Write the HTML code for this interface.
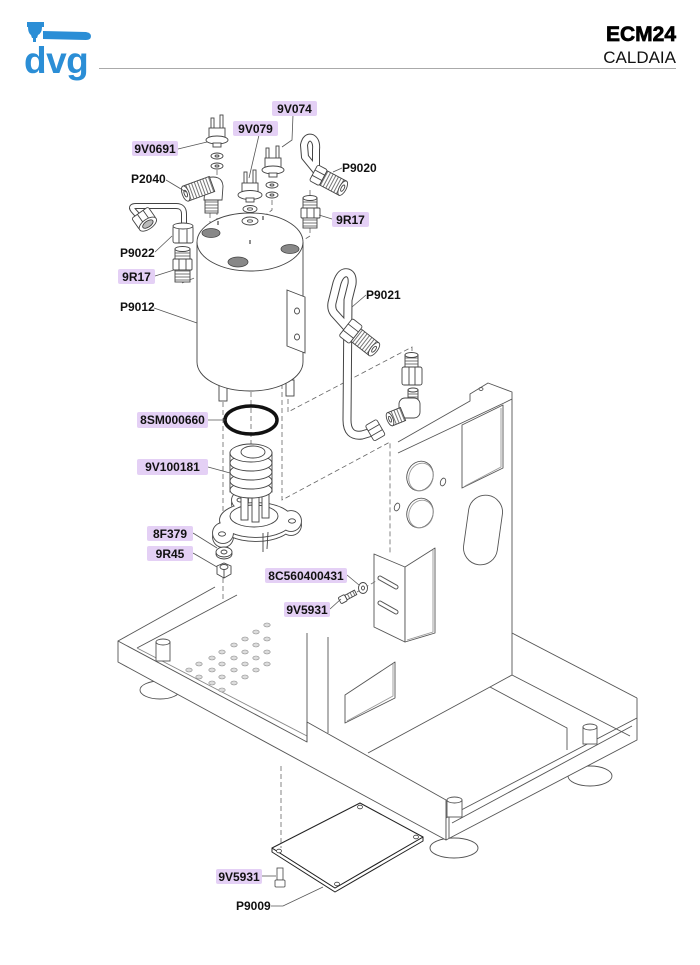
<!DOCTYPE html>
<html><head><meta charset="utf-8">
<style>
html,body{margin:0;padding:0;background:#fff;}
svg{display:block;}
.l{font-family:"Liberation Sans",Arial,sans-serif;font-weight:bold;font-size:12px;fill:#111;}
.b{fill:#e4d0f5;}
</style></head>
<body>
<svg width="700" height="965" viewBox="0 0 700 965" xmlns="http://www.w3.org/2000/svg">
<defs>
<pattern id="th" width="3" height="10" patternUnits="userSpaceOnUse"><rect width="3" height="10" fill="#fff"/><line x1="1" y1="0" x2="1" y2="10" stroke="#666" stroke-width="0.9"/></pattern>
<pattern id="tv" width="10" height="3" patternUnits="userSpaceOnUse"><rect width="10" height="3" fill="#fff"/><line x1="0" y1="1" x2="10" y2="1" stroke="#666" stroke-width="0.9"/></pattern>
</defs>

<!-- HEADER -->
<g fill="#2b8ed6">
<path d="M27 22 H44 V27 H42 Q42 33 38 35 L37 38 H32 L31 35 Q28 33 28 27 H27 Z"/>
<path d="M33 38 H36 V42 H33 Z"/>
<path d="M43 31 L86 32 Q91 33 91 36 Q91 40 86 40 L43 39 Z"/>
<text x="24" y="73" font-family="Liberation Sans,Arial,sans-serif" font-weight="bold" font-size="37" letter-spacing="-0.5">dvg</text>
</g>
<text x="676" y="41" text-anchor="end" font-family="Liberation Sans,Arial,sans-serif" font-weight="bold" font-size="21" stroke="#000" stroke-width="0.7">ECM24</text>
<text x="676" y="63" text-anchor="end" font-family="Liberation Sans,Arial,sans-serif" font-size="17" fill="#111">CALDAIA</text>
<line x1="99" y1="68.5" x2="676" y2="68.5" stroke="#aaa" stroke-width="1"/>

<!-- CHASSIS -->
<g stroke="#555" stroke-width="0.9" fill="#fff" stroke-linejoin="round">
<!-- feet -->
<ellipse cx="160" cy="690" rx="20" ry="9"/>
<ellipse cx="454" cy="848" rx="24" ry="10"/>
<ellipse cx="590" cy="776" rx="22" ry="10"/>
<!-- front wall -->
<polygon points="118,641 307,742 307,722 446,800 446,840 118,662"/>
<!-- right wall -->
<polygon points="446,818 637,718 637,740 446,840"/>
</g>
<g stroke="#555" stroke-width="0.9" fill="none" stroke-linejoin="round">
<line x1="118" y1="641" x2="215" y2="587"/>
<line x1="137" y1="648" x2="237" y2="595"/>
<line x1="137" y1="648" x2="307" y2="736" stroke="#888"/>
<line x1="449" y1="802" x2="449" y2="838"/>
<line x1="452" y1="823" x2="632" y2="726"/>
<line x1="637" y1="698" x2="637" y2="718"/>
<line x1="512" y1="633" x2="637" y2="698"/>
<line x1="512" y1="675" x2="630" y2="736"/>
<polyline points="368,753 490,687 567,728 567,750"/>
<line x1="490" y1="687" x2="512" y2="675"/>
<!-- column -->
<line x1="307" y1="633" x2="307" y2="742"/>
<line x1="328" y1="637" x2="328" y2="733"/>
<!-- lower window -->
<polygon points="345,695 395,662 395,698 345,723"/>
<polyline points="347,721 393,696 393,664" stroke="#999"/>
<!-- panel -->
<polyline points="398,442 470,401 470,394 488,383 512,392 512,675"/>
<polyline points="398,453 504,403 512,399"/>
<ellipse cx="481" cy="389" rx="2" ry="1.5"/>
<polygon points="462,425 503,405 503,468 462,488"/>
<polyline points="465,486 501,467 501,408" stroke="#999"/>
<ellipse cx="420" cy="476" rx="13" ry="15" transform="rotate(20 420 476)"/>
<ellipse cx="421" cy="477" rx="12" ry="14" transform="rotate(20 421 477)" stroke="#999"/>
<ellipse cx="420" cy="513" rx="13" ry="15" transform="rotate(20 420 513)"/>
<ellipse cx="421" cy="514" rx="12" ry="14" transform="rotate(20 421 514)" stroke="#999"/>
<ellipse cx="443" cy="482" rx="2.5" ry="4" transform="rotate(20 443 482)"/>
<ellipse cx="397" cy="507" rx="2.5" ry="4" transform="rotate(20 397 507)"/>
<rect x="466" y="495" width="34" height="70" rx="17" transform="rotate(8 483 530)"/>
<!-- panel bracket -->
<polygon points="374,554 405,567 405,642 374,627" fill="#fff"/>
<polygon points="405,567 435,548 435,633 405,642" fill="#fff"/>
<polyline points="407,640 433,632 433,550" stroke="#999"/>
</g>
<g stroke-linecap="round" fill="none">
<line x1="380" y1="578" x2="396" y2="587" stroke="#555" stroke-width="5"/>
<line x1="380" y1="578" x2="396" y2="587" stroke="#fff" stroke-width="3"/>
<line x1="380" y1="603" x2="396" y2="612" stroke="#555" stroke-width="5"/>
<line x1="380" y1="603" x2="396" y2="612" stroke="#fff" stroke-width="3"/>
</g>
<!-- holes grid -->
<g fill="#ddd" stroke="#888" stroke-width="0.6">
<ellipse cx="267" cy="625" rx="3.2" ry="2"/><ellipse cx="256" cy="632" rx="3.2" ry="2"/><ellipse cx="267" cy="639" rx="3.2" ry="2"/><ellipse cx="245" cy="639" rx="3.2" ry="2"/><ellipse cx="234" cy="645" rx="3.2" ry="2"/><ellipse cx="256" cy="645" rx="3.2" ry="2"/><ellipse cx="267" cy="652" rx="3.2" ry="2"/><ellipse cx="222" cy="652" rx="3.2" ry="2"/><ellipse cx="245" cy="652" rx="3.2" ry="2"/><ellipse cx="212" cy="658" rx="3.2" ry="2"/><ellipse cx="234" cy="658" rx="3.2" ry="2"/><ellipse cx="256" cy="658" rx="3.2" ry="2"/><ellipse cx="267" cy="664" rx="3.2" ry="2"/><ellipse cx="199" cy="664" rx="3.2" ry="2"/><ellipse cx="222" cy="664" rx="3.2" ry="2"/><ellipse cx="245" cy="664" rx="3.2" ry="2"/><ellipse cx="189" cy="670" rx="3.2" ry="2"/><ellipse cx="212" cy="670" rx="3.2" ry="2"/><ellipse cx="234" cy="670" rx="3.2" ry="2"/><ellipse cx="256" cy="670" rx="3.2" ry="2"/><ellipse cx="199" cy="677" rx="3.2" ry="2"/><ellipse cx="222" cy="677" rx="3.2" ry="2"/><ellipse cx="245" cy="677" rx="3.2" ry="2"/><ellipse cx="212" cy="683" rx="3.2" ry="2"/><ellipse cx="234" cy="683" rx="3.2" ry="2"/><ellipse cx="222" cy="690" rx="3.2" ry="2"/>
</g>
<!-- studs -->
<g stroke="#555" stroke-width="0.9" fill="#fff">
<rect x="156" y="642" width="14" height="19"/><ellipse cx="163" cy="642" rx="7" ry="3"/>
<rect x="583" y="727" width="14" height="17"/><ellipse cx="590" cy="727" rx="7" ry="3"/>
<rect x="447" y="800" width="15" height="17"/><ellipse cx="454.5" cy="800" rx="7.5" ry="3"/>
</g>

<!-- BOTTOM PLATE -->
<g stroke="#222" stroke-width="1" fill="#fff" stroke-linejoin="round">
<polygon points="272,848 272,852 335,892 423,841 423,837 335,888"/>
<polygon points="272,848 360,803 423,837 335,888"/>
</g>
<g fill="#fff" stroke="#444" stroke-width="0.8">
<ellipse cx="279" cy="851" rx="2.5" ry="1.8"/><ellipse cx="360" cy="807" rx="2.5" ry="1.8"/><ellipse cx="416" cy="837" rx="2.5" ry="1.8"/><ellipse cx="337" cy="884" rx="2.5" ry="1.8"/>
<rect x="277" y="868" width="6" height="12"/><rect x="275" y="880" width="10" height="7" rx="1"/>
</g>

<!-- DASHED LINES -->
<g stroke="#666" stroke-width="0.8" fill="none" stroke-dasharray="5,3">
<line x1="281" y1="766" x2="281" y2="848"/>
<line x1="251" y1="392" x2="251" y2="447"/>
<line x1="223" y1="402" x2="223" y2="548"/>
<line x1="223" y1="578" x2="223" y2="600"/>
<polyline points="282,320 282,500 390,442 390,555"/>
<polyline points="288,383 288,412 412,347 412,358"/>
<line x1="217" y1="170" x2="217" y2="222"/>
<line x1="250" y1="226" x2="250" y2="242"/>
<line x1="210" y1="213" x2="210" y2="230"/>
<polyline points="272,200 272,210 263,217"/>
<line x1="182" y1="283" x2="231" y2="263"/>
<polyline points="310,228 310,236 292,247"/>
<line x1="310" y1="190" x2="310" y2="197"/>
<line x1="357" y1="592" x2="378" y2="580"/>
</g>

<!-- BOILER -->
<g stroke="#444" stroke-width="0.9" fill="#fff">
<rect x="219" y="384" width="8" height="17"/>
<rect x="286" y="380" width="8" height="16"/>
<path d="M197,242 V362 A53,29 0 0 0 303,362 V242"/>
<ellipse cx="250" cy="242" rx="53" ry="29"/>
<polygon points="287,290 305,297 305,353 287,346"/>
<ellipse cx="297" cy="311" rx="2.5" ry="3"/>
<ellipse cx="297" cy="337" rx="2.5" ry="3"/>
</g>
<g fill="#888" stroke="#444" stroke-width="0.8">
<ellipse cx="211" cy="233" rx="9" ry="4.5"/>
<ellipse cx="238" cy="262" rx="10" ry="5"/>
<ellipse cx="290" cy="249" rx="9" ry="4.5"/>
</g>
<g stroke="#444" stroke-width="1.2">
<line x1="218" y1="221" x2="218" y2="225"/><line x1="250" y1="240" x2="250" y2="244"/><line x1="263" y1="216" x2="263" y2="220"/>
</g>

<!-- O-RING -->
<ellipse cx="251" cy="420" rx="26" ry="14" fill="none" stroke="#111" stroke-width="3.5"/>

<!-- HEATING ELEMENT -->
<!-- flange thickness (shifted) -->
<g transform="translate(0,4)">
<g stroke="#444" stroke-width="1.8" fill="#fff">
<ellipse cx="256" cy="520" rx="36" ry="17"/><circle cx="240" cy="500" r="8"/><circle cx="223" cy="533" r="10"/><circle cx="291" cy="521" r="10"/>
</g>
<g fill="#fff">
<ellipse cx="256" cy="520" rx="36" ry="17"/><circle cx="240" cy="500" r="8"/><circle cx="223" cy="533" r="10"/><circle cx="291" cy="521" r="10"/>
</g>
</g>
<!-- flange top -->
<g stroke="#444" stroke-width="1.8" fill="#fff">
<ellipse cx="256" cy="520" rx="36" ry="17"/><circle cx="240" cy="500" r="8"/><circle cx="223" cy="533" r="10"/><circle cx="291" cy="521" r="10"/>
</g>
<g fill="#fff">
<ellipse cx="256" cy="520" rx="36" ry="17"/><circle cx="240" cy="500" r="8"/><circle cx="223" cy="533" r="10"/><circle cx="291" cy="521" r="10"/>
</g>
<g stroke="#444" stroke-width="0.9" fill="#fff">
<ellipse cx="240" cy="500" rx="3" ry="2"/><ellipse cx="222" cy="534" rx="3.5" ry="2.2"/><ellipse cx="292" cy="521" rx="3.5" ry="2.2"/>
<ellipse cx="254" cy="516" rx="24" ry="11"/>
<line x1="263" y1="533" x2="263" y2="552"/><line x1="268" y1="532" x2="267" y2="549"/>
<rect x="241" y="490" width="7" height="30"/><rect x="252" y="490" width="7" height="32"/><rect x="262" y="490" width="7" height="28"/>
<rect x="230" y="452" width="42" height="40"/>
<ellipse cx="251" cy="490" rx="21" ry="8"/>
<ellipse cx="251" cy="481" rx="21" ry="8"/>
<ellipse cx="251" cy="472" rx="21" ry="8"/>
<ellipse cx="251" cy="463" rx="21" ry="8"/>
<ellipse cx="251" cy="453" rx="21" ry="9"/>
<ellipse cx="253" cy="452" rx="12" ry="6"/>
</g>
<!-- washer + nut -->
<g stroke="#444" stroke-width="0.9" fill="#fff">
<ellipse cx="224" cy="554" rx="8" ry="5"/>
<ellipse cx="224" cy="552" rx="8" ry="5"/>
<ellipse cx="224" cy="552" rx="3" ry="2"/>
<polygon points="217,566 224,563 231,566 231,574 224,578 217,574"/>
<ellipse cx="224" cy="567" rx="4" ry="2.5"/>
<line x1="224" y1="570" x2="224" y2="578"/>
</g>
<!-- small screw + washer mid -->
<g stroke="#444" stroke-width="0.9" fill="#fff">
<ellipse cx="363" cy="588" rx="4.5" ry="5.5"/><ellipse cx="363" cy="588" rx="1.5" ry="2"/>
<g transform="translate(345,598) rotate(-28)"><rect x="0" y="-2.5" width="12" height="5" fill="url(#th)"/><rect x="-6" y="-3.5" width="7" height="7" rx="1.5"/></g>
</g>

<!-- PIPES -->
<g fill="none" stroke-linecap="round" stroke-linejoin="round">
<path d="M352 333 L334 313 Q331 309 332 303 L337 283 Q341 271 348 273 Q353 275 352 284 L348 300 L347 420 Q347 437 362 435 L372 432" stroke="#444" stroke-width="9"/>
<path d="M352 333 L334 313 Q331 309 332 303 L337 283 Q341 271 348 273 Q353 275 352 284 L348 300 L347 420 Q347 437 362 435 L372 432" stroke="#fff" stroke-width="7"/>
<path d="M318 173 L305 157 L304 145 Q306 136 312 138 Q317 141 316 150 L316 165" stroke="#444" stroke-width="8"/>
<path d="M318 173 L305 157 L304 145 Q306 136 312 138 Q317 141 316 150 L316 165" stroke="#fff" stroke-width="6"/>
<path d="M140 218 L133 210 Q130 206 136 206 L176 206 Q184 206 184 214 L184 228" stroke="#444" stroke-width="6"/>
<path d="M140 218 L133 210 Q130 206 136 206 L176 206 Q184 206 184 214 L184 228" stroke="#fff" stroke-width="4"/>
</g>

<!-- FITTINGS -->
<g stroke="#444" stroke-width="0.9" fill="#fff">
<!-- P9021 top fitting -->
<g transform="translate(352,332) rotate(38)">
<rect x="5" y="-8" width="23" height="16" fill="url(#th)"/>
<ellipse cx="28" cy="0" rx="3.5" ry="8"/><ellipse cx="28" cy="0" rx="1.5" ry="3.5"/>
<rect x="-8" y="-11" width="13" height="22" rx="2"/><line x1="-8" y1="-4" x2="5" y2="-4"/><line x1="-8" y1="4" x2="5" y2="4"/>
</g>
<!-- P9021 lower nut -->
<g transform="translate(374,431) rotate(-30)">
<rect x="-5" y="-9" width="13" height="18" rx="2"/><line x1="-5" y1="-3" x2="8" y2="-3"/><line x1="-5" y1="3" x2="8" y2="3"/>
</g>
<!-- straight nipple -->
<rect x="405" y="355" width="13" height="12" fill="url(#tv)"/>
<ellipse cx="411.5" cy="355" rx="6.5" ry="2.5"/>
<rect x="402" y="367" width="20" height="18" rx="2"/><line x1="409" y1="367" x2="409" y2="385"/><line x1="415" y1="367" x2="415" y2="385"/>
<!-- elbow -->
<rect x="408" y="390" width="10" height="10" fill="url(#tv)"/>
<ellipse cx="413" cy="390" rx="5" ry="2"/>
<rect x="399" y="398" width="21" height="20" rx="6"/>
<g transform="translate(403,414) rotate(158)"><rect x="0" y="-7" width="14" height="14" fill="url(#th)"/><ellipse cx="14" cy="0" rx="3" ry="7"/><ellipse cx="14" cy="0" rx="1.2" ry="3"/></g>
<!-- P9020 fitting -->
<g transform="translate(318,175) rotate(28)">
<rect x="6" y="-8" width="22" height="16" fill="url(#th)"/>
<ellipse cx="28" cy="0" rx="3.5" ry="8"/><ellipse cx="28" cy="0" rx="1.5" ry="3.5"/>
<rect x="-5" y="-9" width="11" height="18" rx="2"/><line x1="-5" y1="-3" x2="6" y2="-3"/><line x1="-5" y1="3" x2="6" y2="3"/>
</g>
<!-- 9R17 right -->
<rect x="303" y="198" width="14" height="10" fill="url(#tv)"/>
<ellipse cx="310" cy="198" rx="7" ry="2.5"/>
<rect x="301" y="208" width="19" height="10" rx="1"/><line x1="307" y1="208" x2="307" y2="218"/><line x1="314" y1="208" x2="314" y2="218"/>
<rect x="303" y="218" width="14" height="10" fill="url(#tv)"/>
<!-- 9R17 left -->
<rect x="175" y="249" width="15" height="10" fill="url(#tv)"/>
<ellipse cx="182.5" cy="249" rx="7.5" ry="2.5"/>
<rect x="173" y="259" width="19" height="11" rx="1"/><line x1="179" y1="259" x2="179" y2="270"/><line x1="186" y1="259" x2="186" y2="270"/>
<rect x="175" y="270" width="15" height="12" fill="url(#tv)"/>
<!-- P9022 nuts -->
<g transform="translate(145,220) rotate(-35)">
<rect x="-10" y="-9" width="20" height="14" rx="2"/><line x1="-3" y1="-9" x2="-3" y2="5"/><line x1="4" y1="-9" x2="4" y2="5"/>
<ellipse cx="0" cy="5" rx="10" ry="5"/><ellipse cx="0" cy="5" rx="6" ry="3" fill="#bbb"/>
</g>
<rect x="173" y="226" width="20" height="17" rx="2"/><line x1="179" y1="226" x2="179" y2="243"/><line x1="187" y1="226" x2="187" y2="243"/>
<ellipse cx="183" cy="226" rx="10" ry="3"/>
<!-- P2040 -->
<rect x="205" y="200" width="13" height="13" fill="url(#tv)"/>
<path d="M206 178 Q222 174 223 186 L222 200 L204 200 Z"/>
<g transform="translate(212,184) rotate(160)"><rect x="0" y="-8" width="28" height="16" fill="url(#th)"/><ellipse cx="28" cy="0" rx="3.5" ry="8"/><ellipse cx="28" cy="0" rx="1.5" ry="3.5"/></g>
<!-- 9V0691 -->
<rect x="211" y="118" width="3" height="12"/><rect x="220" y="115" width="3" height="14"/>
<rect x="209" y="128" width="16" height="10"/>
<ellipse cx="217" cy="140" rx="11" ry="4"/>
<rect x="213" y="143" width="8" height="4"/>
<ellipse cx="217" cy="156" rx="6" ry="3"/><ellipse cx="217" cy="156" rx="2" ry="1"/>
<ellipse cx="217" cy="166" rx="6" ry="3"/><ellipse cx="217" cy="166" rx="2" ry="1"/>
<!-- 9V079 -->
<rect x="244" y="172" width="3" height="12"/><rect x="253" y="170" width="3" height="14"/>
<rect x="242" y="183" width="16" height="10"/>
<ellipse cx="250" cy="195" rx="12" ry="4.5"/>
<rect x="246" y="198" width="8" height="4"/>
<ellipse cx="250" cy="209" rx="7" ry="3.5"/><ellipse cx="250" cy="209" rx="2.5" ry="1.2"/>
<ellipse cx="250" cy="221" rx="8" ry="4"/><ellipse cx="250" cy="221" rx="2.5" ry="1.2"/>
<!-- 9V074 -->
<rect x="266" y="148" width="3" height="12"/><rect x="276" y="146" width="3" height="14"/>
<rect x="265" y="158" width="16" height="10"/>
<ellipse cx="273" cy="170" rx="11" ry="4"/>
<rect x="269" y="173" width="8" height="4"/>
<ellipse cx="272" cy="185" rx="6" ry="3"/><ellipse cx="272" cy="185" rx="2" ry="1"/>
<ellipse cx="272" cy="195" rx="6" ry="3"/><ellipse cx="272" cy="195" rx="2" ry="1"/>
</g>

<!-- LEADERS -->
<g stroke="#555" stroke-width="0.8" fill="none">
<polyline points="293,115 292,140 282,147"/>
<line x1="259" y1="135" x2="249" y2="178"/>
<line x1="178" y1="149" x2="207" y2="142"/>
<line x1="166" y1="180" x2="186" y2="192"/>
<line x1="342" y1="168" x2="333" y2="172"/>
<line x1="332" y1="219" x2="319" y2="215"/>
<line x1="155" y1="252" x2="172" y2="236"/>
<line x1="155" y1="276" x2="174" y2="270"/>
<line x1="154" y1="308" x2="197" y2="323"/>
<line x1="366" y1="295" x2="352" y2="307"/>
<line x1="208" y1="420" x2="225" y2="420"/>
<line x1="208" y1="467" x2="230" y2="473"/>
<line x1="193" y1="533" x2="217" y2="548"/>
<line x1="193" y1="553" x2="217" y2="567"/>
<line x1="347" y1="575" x2="359" y2="585"/>
<line x1="330" y1="609" x2="341" y2="599"/>
<line x1="262" y1="876" x2="276" y2="876"/>
<polyline points="271,906 283,906 323,887"/>
</g>

<!-- LABELS -->
<g>
<rect class="b" x="272" y="101" width="45" height="15" rx="2"/><text class="l" x="294.5" y="113" text-anchor="middle">9V074</text>
<rect class="b" x="233" y="121" width="45" height="15" rx="2"/><text class="l" x="255.5" y="133" text-anchor="middle">9V079</text>
<rect class="b" x="132" y="141" width="46" height="15" rx="2"/><text class="l" x="155" y="153" text-anchor="middle">9V0691</text>
<rect class="b" x="332" y="212" width="37" height="15" rx="2"/><text class="l" x="350.5" y="224" text-anchor="middle">9R17</text>
<rect class="b" x="118" y="269" width="37" height="15" rx="2"/><text class="l" x="136.5" y="281" text-anchor="middle">9R17</text>
<rect class="b" x="137" y="412" width="71" height="16" rx="2"/><text class="l" x="172.5" y="424" text-anchor="middle">8SM000660</text>
<rect class="b" x="137" y="459" width="71" height="16" rx="2"/><text class="l" x="172.5" y="471" text-anchor="middle">9V100181</text>
<rect class="b" x="147" y="526" width="46" height="15" rx="2"/><text class="l" x="170" y="538" text-anchor="middle">8F379</text>
<rect class="b" x="147" y="546" width="46" height="15" rx="2"/><text class="l" x="170" y="558" text-anchor="middle">9R45</text>
<rect class="b" x="265" y="568" width="82" height="15" rx="2"/><text class="l" x="306" y="580" text-anchor="middle">8C560400431</text>
<rect class="b" x="284" y="602" width="46" height="15" rx="2"/><text class="l" x="307" y="614" text-anchor="middle">9V5931</text>
<rect class="b" x="216" y="869" width="46" height="15" rx="2"/><text class="l" x="239" y="881" text-anchor="middle">9V5931</text>
<text class="l" x="131" y="183">P2040</text>
<text class="l" x="342" y="172">P9020</text>
<text class="l" x="120" y="257">P9022</text>
<text class="l" x="120" y="311">P9012</text>
<text class="l" x="366" y="299">P9021</text>
<text class="l" x="236" y="910">P9009</text>
</g>
</svg>
</body></html>
